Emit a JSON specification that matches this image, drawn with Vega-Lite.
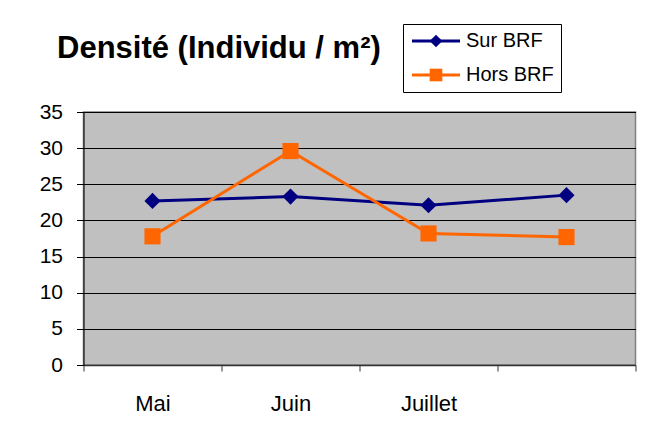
{
  "$schema": "https://vega.github.io/schema/vega-lite/v6.json",
  "width": 552,
  "height": 253,
  "autosize": "none",
  "padding": {"left": 83.5, "top": 112, "right": 28.5, "bottom": 69},
  "background": "white",
  "config": {
    "font": "Liberation Sans",
    "view": {"fill": "#c0c0c0", "stroke": "#808080", "strokeWidth": 1.5}
  },
  "title": {
    "text": "Densité (Individu / m²)",
    "anchor": "start",
    "frame": "group",
    "font": "Liberation Sans",
    "fontSize": 31,
    "fontWeight": "bold",
    "color": "#000000",
    "dx": -26.5,
    "baseline": "alphabetic",
    "offset": 0,
    "dy": 65.5
  },
  "data": {
    "values": [
      {"mois": "Mai", "serie": "Sur BRF", "densite": 22.7},
      {"mois": "Juin", "serie": "Sur BRF", "densite": 23.3},
      {"mois": "Juillet", "serie": "Sur BRF", "densite": 22.1},
      {"mois": " ", "serie": "Sur BRF", "densite": 23.5},
      {"mois": "Mai", "serie": "Hors BRF", "densite": 17.8},
      {"mois": "Juin", "serie": "Hors BRF", "densite": 29.6},
      {"mois": "Juillet", "serie": "Hors BRF", "densite": 18.2},
      {"mois": " ", "serie": "Hors BRF", "densite": 17.7}
    ]
  },
  "encoding": {
    "x": {
      "field": "mois",
      "type": "nominal",
      "sort": ["Mai", "Juin", "Juillet", " "],
      "scale": {"type": "band", "paddingInner": 0, "paddingOuter": 0},
      "axis": {
        "title": null,
        "labelAngle": 0,
        "labelFontSize": 22,
        "labelColor": "#000000",
        "labelPadding": 22,
        "tickBand": "extent",
        "tickSize": 6,
        "tickColor": "#333333",
        "domainColor": "#333333",
        "domainWidth": 1.5,
        "grid": false
      }
    },
    "y": {
      "field": "densite",
      "type": "quantitative",
      "scale": {"domain": [0, 35], "nice": false},
      "axis": {
        "title": null,
        "values": [0, 5, 10, 15, 20, 25, 30, 35],
        "grid": true,
        "gridColor": "#000000",
        "gridOpacity": 1,
        "gridWidth": 1,
        "domainColor": "#000000",
        "tickColor": "#000000",
        "tickSize": 7,
        "labelFontSize": 21,
        "labelColor": "#000000",
        "labelPadding": 14
      }
    }
  },
  "layer": [
    {
      "mark": {"type": "line", "strokeWidth": 3},
      "encoding": {
        "color": {
          "field": "serie",
          "type": "nominal",
          "scale": {"domain": ["Sur BRF", "Hors BRF"], "range": ["#000080", "#ff6600"]},
          "legend": {
            "title": null,
            "orient": "none",
            "legendX": 319.5,
            "legendY": -88,
            "symbolType": "M-1,0H5",
            "symbolSize": 256,
            "symbolStrokeWidth": 3,
            "labelFontSize": 20,
            "labelColor": "#000000",
            "labelOffset": 36,
            "padding": 7,
            "rowPadding": 14,
            "strokeColor": "#000000",
            "fillColor": "#ffffff",
            "cornerRadius": 0
          }
        }
      }
    },
    {
      "mark": {"type": "point", "filled": true, "opacity": 1, "size": 260},
      "encoding": {
        "color": {
          "field": "serie",
          "type": "nominal",
          "scale": {"domain": ["Sur BRF", "Hors BRF"], "range": ["#000080", "#ff6600"]},
          "legend": {
            "title": null,
            "orient": "none",
            "legendX": 335.5,
            "legendY": -88,
            "symbolSize": 160,
            "symbolOpacity": 1,
            "labelFontSize": 20,
            "labelOpacity": 0,
            "labelOffset": 4,
            "padding": 7,
            "rowPadding": 14
          }
        },
        "shape": {
          "field": "serie",
          "type": "nominal",
          "scale": {"domain": ["Sur BRF", "Hors BRF"], "range": ["diamond", "square"]},
          "legend": {
            "title": null,
            "orient": "none",
            "legendX": 335.5,
            "legendY": -88,
            "symbolSize": 160,
            "symbolOpacity": 1,
            "labelFontSize": 20,
            "labelOpacity": 0,
            "labelOffset": 4,
            "padding": 7,
            "rowPadding": 14
          }
        }
      }
    }
  ],
  "resolve": {
    "scale": {"color": "independent", "shape": "independent"},
    "legend": {"color": "independent", "shape": "independent"}
  }
}
